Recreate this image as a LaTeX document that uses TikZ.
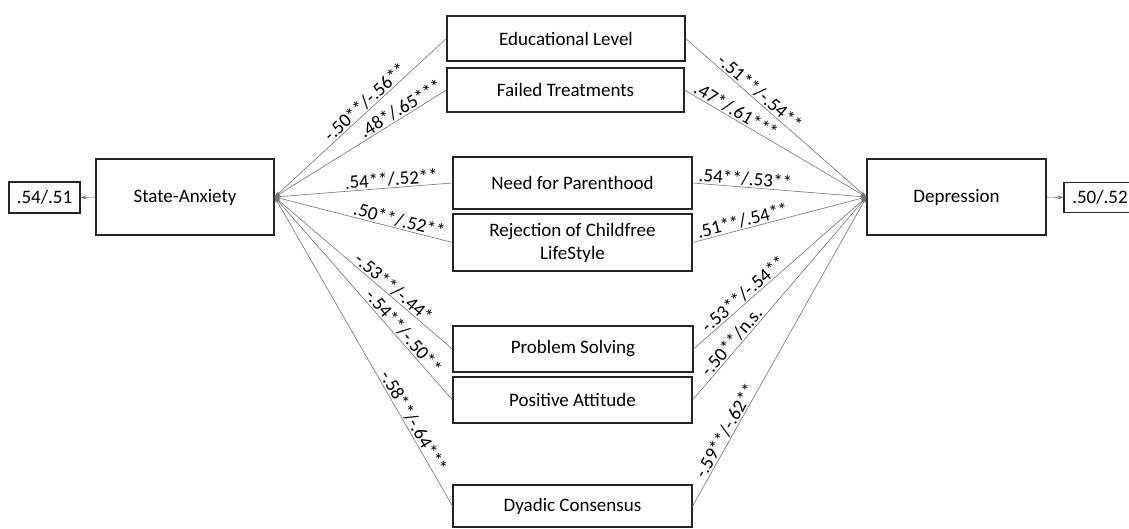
\documentclass[tikz,border=0pt]{standalone}
\usepackage{fontspec}
\setmainfont{Carlito}
\usetikzlibrary{arrows.meta}
\begin{document}
\begin{tikzpicture}[x=1pt,y=-1pt]
\tikzset{
  box/.style={draw=black!85, line width=1.1pt, inner sep=0pt, align=center,
    font=\fontsize{19}{23}\selectfont},
  tobox/.style={draw=black!55, line width=0.6pt, {Stealth[length=6pt,width=4pt]}-},
  frombox/.style={draw=black!55, line width=0.6pt, -{Stealth[length=6pt,width=4pt]}},
  coef/.style={sloped, above, inner sep=1pt, font=\fontsize{19}{23}\selectfont}
}
\useasboundingbox (0,0) rectangle (1129,529);

% outcome and predictor boxes
\node[box, minimum width=178pt, minimum height=76pt] (sa) at (185,197) {State-Anxiety};
\node[box, minimum width=179pt, minimum height=76pt] (dep) at (956.5,197) {Depression};
\node[box, minimum width=71pt, minimum height=31pt] (rsa) at (44.5,197.5) {.54/.51};
\node[box, minimum width=72pt, minimum height=30pt] (rdep) at (1100,197.5) {.50/.52};

% mediating variables
\node[box, minimum width=238pt, minimum height=45pt] (ed) at (566,38.5) {Educational Level};
\node[box, minimum width=237pt, minimum height=44pt] (ft) at (565.5,90) {Failed Treatments};
\node[box, minimum width=239pt, minimum height=52pt] (np) at (572.5,183) {Need for Parenthood};
\node[box, minimum width=239pt, minimum height=57pt] (rc) at (572.5,242.5) {Rejection of Childfree\\LifeStyle};
\node[box, minimum width=240pt, minimum height=46pt] (ps) at (573,349) {Problem Solving};
\node[box, minimum width=239pt, minimum height=46pt] (pa) at (572.5,400) {Positive Attitude};
\node[box, minimum width=239pt, minimum height=42pt] (dc) at (572.5,506) {Dyadic Consensus};

% explained variance
\draw[frombox] (sa.west) -- (rsa.east);
\draw[frombox] (dep.east) -- (rdep.west);

% paths to State-Anxiety
\draw[tobox] (sa.east) -- node[coef, pos=0.56] {-.50**/-.56**} (ed.west);
\draw[tobox] (sa.east) -- node[coef, pos=0.76] {.48*/.65***} (ft.west);
\draw[tobox] (sa.east) -- node[coef, pos=0.66] {.54**/.52**} (np.west);
\draw[tobox] (sa.east) -- node[coef, pos=0.69] {.50**/.52**} (rc.west);
\draw[tobox] (sa.east) -- node[coef, pos=0.64] {-.53**/-.44*} (ps.west);
\draw[tobox] (sa.east) -- node[coef, pos=0.69] {-.54**/-.50**} (pa.west);
\draw[tobox] (sa.east) -- node[coef, pos=0.74] {-.58**/-.64***} (dc.west);

% paths to Depression
\draw[frombox] (ed.east) -- node[coef, pos=0.38] {-.51**/-.54**} (dep.west);
\draw[frombox] (ft.east) -- node[coef, pos=0.26] {.47*/.61***} (dep.west);
\draw[frombox] (np.east) -- node[coef, pos=0.30] {.54**/.53**} (dep.west);
\draw[frombox] (rc.east) -- node[coef, pos=0.30] {.51**/.54**} (dep.west);
\draw[frombox] (ps.east) -- node[coef, pos=0.32] {-.53**/-.54**} (dep.west);
\draw[frombox] (pa.east) -- node[coef, pos=0.26] {-.50**/n.s.} (dep.west);
\draw[frombox] (dc.east) -- node[coef, pos=0.23] {-.59**/-.62**} (dep.west);
\end{tikzpicture}
\end{document}
